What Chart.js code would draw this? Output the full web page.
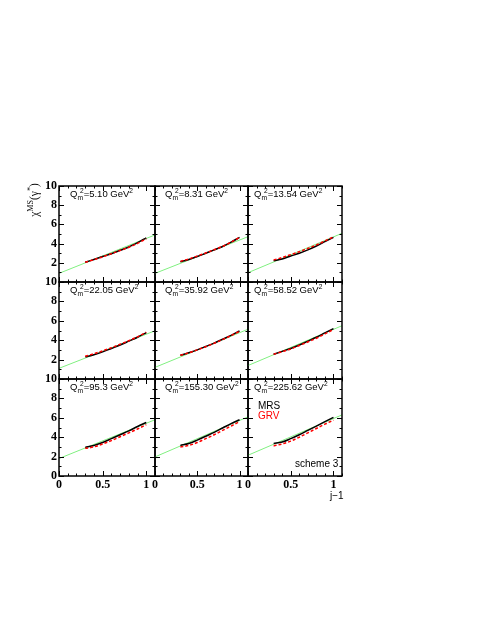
<!DOCTYPE html>
<html>
<head>
<meta charset="utf-8">
<script src="https://cdn.jsdelivr.net/npm/chart.js@4.4.1/dist/chart.umd.min.js"></script>
<style>
  html, body { margin: 0; padding: 0; background: #fff; }
  #page { position: relative; width: 491px; height: 635px; overflow: hidden; background: #fff; }
  #page canvas { position: absolute; }
  .txt { position: absolute; font-family: 'Liberation Sans', Arial, sans-serif; font-size: 9.5px; line-height: 11px; white-space: nowrap; color: #000; }
  .txt sup, .txt sub { font-size: 70%; line-height: 0; }
</style>
</head>
<body>
<div id="page"></div>
<script>
// values
const xPoints = [0.3, 0.4, 0.5, 0.6, 0.7, 0.8, 0.9, 1.0];
const q2Labels = ['5.10', '8.31', '13.54', '22.05', '35.92', '58.52', '95.3', '155.30', '225.62'];

const mrsValues = [
  [2.05, 2.35, 2.65, 2.95, 3.30, 3.65, 4.10, 4.60],
  [2.10, 2.35, 2.65, 3.00, 3.35, 3.70, 4.15, 4.65],
  [2.20, 2.40, 2.70, 3.00, 3.35, 3.75, 4.20, 4.65],
  [2.28, 2.50, 2.80, 3.15, 3.50, 3.90, 4.30, 4.78],
  [2.45, 2.70, 3.00, 3.35, 3.70, 4.10, 4.50, 4.95],
  [2.55, 2.85, 3.15, 3.50, 3.90, 4.30, 4.75, 5.20],
  [2.95, 3.15, 3.45, 3.85, 4.25, 4.65, 5.10, 5.52],
  [3.15, 3.35, 3.70, 4.10, 4.50, 4.95, 5.40, 5.80],
  [3.35, 3.50, 3.85, 4.25, 4.70, 5.15, 5.60, 6.05]
];

const grvValues = [
  [2.05, 2.33, 2.62, 2.95, 3.28, 3.62, 4.02, 4.50],
  [2.15, 2.40, 2.70, 3.02, 3.36, 3.72, 4.15, 4.65],
  [2.30, 2.55, 2.85, 3.15, 3.50, 3.85, 4.28, 4.70],
  [2.35, 2.60, 2.90, 3.22, 3.58, 3.95, 4.35, 4.82],
  [2.45, 2.70, 3.00, 3.33, 3.68, 4.07, 4.48, 4.92],
  [2.55, 2.82, 3.10, 3.45, 3.82, 4.20, 4.65, 5.10],
  [2.85, 3.00, 3.30, 3.65, 4.05, 4.45, 4.85, 5.30],
  [3.00, 3.15, 3.45, 3.85, 4.25, 4.70, 5.15, 5.60],
  [3.10, 3.30, 3.60, 4.00, 4.45, 4.90, 5.35, 5.75]
];

// green straight line: value at j-1 = 0 and at j-1 = 1.1
const fitStart = [0.9, 0.9, 0.97, 1.1, 1.2, 1.39, 1.8, 1.97, 2.14];
const fitEnd = [4.9, 4.72, 5.07, 4.97, 5.13, 5.49, 5.8, 6.1, 6.3];

const yTickLabels = [0, 2, 4, 6, 8, 10];
const xTickLabels = [0, 0.5, 1];

// pad geometry
const colLeft = [59, 155, 248];
const colWidth = [96, 93, 94];
const rowTop = [186, 282, 379];
const rowHeight = [96, 97, 97];
const titleLeft = [70, 165, 254];

const page = document.getElementById('page');

// frame with inward ticks on all four sides, ROOT style
const frameTicks = {
  id: 'frameTicks',
  afterDatasetsDraw(chart) {
    const { ctx, chartArea: a, scales: { x, y } } = chart;
    ctx.save();
    ctx.strokeStyle = '#000';
    ctx.lineWidth = 1;
    ctx.beginPath();
    for (let v = 0; v <= 10; v++) {
      const py = Math.round(y.getPixelForValue(v)) + 0.5;
      const len = v % 2 === 0 ? 5 : 2.5;
      ctx.moveTo(a.left, py); ctx.lineTo(a.left + len, py);
      ctx.moveTo(a.right, py); ctx.lineTo(a.right - len, py);
    }
    for (let i = 0; i <= 11; i++) {
      const px = Math.round(x.getPixelForValue(i / 10)) + 0.5;
      const len = i % 5 === 0 ? 5 : 2.5;
      ctx.moveTo(px, a.top); ctx.lineTo(px, a.top + len);
      ctx.moveTo(px, a.bottom); ctx.lineTo(px, a.bottom - len);
    }
    ctx.stroke();
    ctx.lineWidth = 1.5;
    ctx.strokeRect(a.left, a.top, a.right - a.left, a.bottom - a.top);
    ctx.restore();
  }
};

const tickFont = { family: "'Liberation Serif', 'DejaVu Serif', serif", size: 12, weight: 'bold' };

function makeText(html, left, top, extra) {
  const d = document.createElement('div');
  d.className = 'txt';
  d.innerHTML = html;
  d.style.left = left + 'px';
  d.style.top = top + 'px';
  if (extra) Object.assign(d.style, extra);
  page.appendChild(d);
  return d;
}

function drawPanel(i) {
  const c = i % 3, r = Math.floor(i / 3);
  const isLeft = c === 0, isBottom = r === 2;
  const yAxisW = isLeft ? 20 : 0;
  const xAxisH = isBottom ? 18 : 0;
  const pad = 10, padR = 6;

  const canvas = document.createElement('canvas');
  const w = pad + yAxisW + colWidth[c] + padR;
  const h = pad + rowHeight[r] + xAxisH + pad;
  canvas.width = w; canvas.height = h;
  canvas.style.width = w + 'px'; canvas.style.height = h + 'px';
  canvas.style.left = (colLeft[c] - pad - yAxisW) + 'px';
  canvas.style.top = (rowTop[r] - pad) + 'px';
  page.appendChild(canvas);

  new Chart(canvas, {
    type: 'scatter',
    data: {
      datasets: [
        {
          label: 'GRV',
          data: xPoints.map((x, k) => ({ x, y: grvValues[i][k] })),
          showLine: true,
          borderColor: '#ff0000',
          borderDash: [3, 2],
          borderWidth: 1.5,
          pointRadius: 0,
          cubicInterpolationMode: 'monotone'
        },
        {
          label: 'MRS',
          data: xPoints.map((x, k) => ({ x, y: mrsValues[i][k] })),
          showLine: true,
          borderColor: '#000000',
          borderWidth: 1.5,
          pointRadius: 0,
          cubicInterpolationMode: 'monotone'
        },
        {
          label: 'fit',
          data: [{ x: 0, y: fitStart[i] }, { x: 1.1, y: fitEnd[i] }],
          showLine: true,
          borderColor: '#80f080',
          borderWidth: 1,
          pointRadius: 0
        }
      ]
    },
    options: {
      responsive: false,
      animation: false,
      events: [],
      layout: { padding: { left: pad, top: pad, right: padR, bottom: pad } },
      plugins: { legend: { display: false }, tooltip: { enabled: false } },
      scales: {
        x: {
          type: 'linear', min: 0, max: 1.1,
          display: isBottom,
          grid: { display: false, drawTicks: false, tickLength: 0 },
          border: { display: false },
          afterBuildTicks: s => { s.ticks = xTickLabels.map(v => ({ value: v })); },
          afterFit: s => { s.height = xAxisH; },
          ticks: { padding: 2, color: '#000', font: tickFont, maxRotation: 0, autoSkip: false, callback: v => String(v) }
        },
        y: {
          type: 'linear', min: 0, max: 10,
          display: isLeft,
          grid: { display: false, drawTicks: false, tickLength: 0 },
          border: { display: false },
          afterBuildTicks: s => { s.ticks = yTickLabels.filter(v => isBottom || v !== 0).map(v => ({ value: v })); },
          afterFit: s => { s.width = yAxisW; },
          ticks: { padding: 2, color: '#000', font: tickFont, autoSkip: false, callback: v => String(v) }
        }
      }
    },
    plugins: [frameTicks]
  });

  makeText('Q<sub>m</sub><sup style="margin-left:-3px">2</sup>=' + q2Labels[i] + ' GeV<sup>2</sup>',
    titleLeft[c], rowTop[r] + 2);
}

for (let i = 0; i < 9; i++) drawPanel(i);

// legend and notes in the last pad
makeText('MRS', 258, 400, { fontSize: '10px' });
makeText('GRV', 258, 410, { fontSize: '10px', color: '#ff0000' });
makeText('scheme 3', 295, 458, { fontSize: '10px' });
makeText('j\u22121', 330, 490, { fontSize: '10px' });

// y axis title
makeText('\u03c7<sup>MS</sup>(\u03b3<sup>*</sup>)', 34, 200, {
  fontFamily: "'Liberation Serif', serif", fontSize: '11.5px',
  transform: 'translate(-50%, -50%) rotate(-90deg)'
});
</script>
</body>
</html>
